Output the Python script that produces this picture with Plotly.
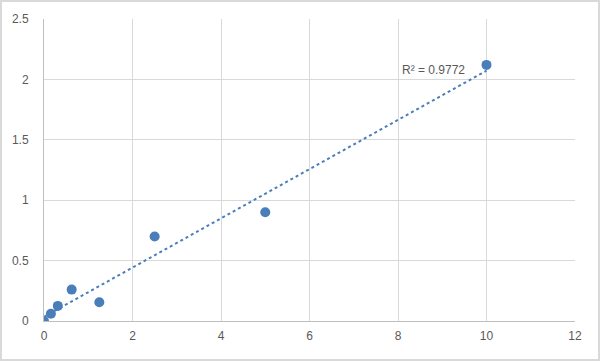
import numpy as np
import plotly.graph_objects as go

conc = [0, 0.156, 0.3125, 0.625, 1.25, 2.5, 5, 10]
od = [0.0, 0.06, 0.125, 0.26, 0.155, 0.70, 0.90, 2.12]
r2_label = "R² = 0.9772"

x = np.array(conc)
y = np.array(od)
slope, intercept = np.polyfit(x, y, 1)
tx = np.linspace(0, 10, 50)
ty = slope * tx + intercept

L, R, T, B = 44, 25, 19, 40
PW, PH = 600 - L - R, 361 - T - B

font = dict(family="Liberation Sans, Arial", size=12, color="#595959")

fig = go.Figure()
fig.add_trace(go.Scatter(x=tx, y=ty, mode="lines",
                         line=dict(color="#4a7ebb", width=2, dash="dot"),
                         hoverinfo="skip", showlegend=False))
fig.add_trace(go.Scatter(x=conc, y=od, mode="markers",
                         marker=dict(color="#4a7ebb", size=10),
                         showlegend=False))
fig.add_annotation(x=8.8, y=2.08, text=r2_label, showarrow=False,
                   xanchor="center", yanchor="middle", font=font)
fig.update_xaxes(range=[0, 12], dtick=2, showgrid=True, gridcolor="#d9d9d9", gridwidth=1,
                 zeroline=False, showline=True, linecolor="#bfbfbf", linewidth=1,
                 tickfont=font, ticks="", automargin=False, ticklabelstandoff=4)
fig.update_yaxes(range=[0, 2.5], dtick=0.5, showgrid=True, gridcolor="#d9d9d9", gridwidth=1,
                 zeroline=False, showline=True, linecolor="#bfbfbf", linewidth=1,
                 tickfont=font, ticks="", automargin=False, ticklabelstandoff=12)
fig.add_shape(type="rect", xref="paper", yref="paper",
              x0=-(L - 1) / PW, x1=1 + (R - 1) / PW,
              y0=-(B - 1) / PH, y1=1 + (T - 1) / PH,
              line=dict(color="#d9d9d9", width=2))
fig.update_layout(width=600, height=361, margin=dict(l=L, r=R, t=T, b=B),
                  paper_bgcolor="white", plot_bgcolor="white")
fig.write_html("out.html")
